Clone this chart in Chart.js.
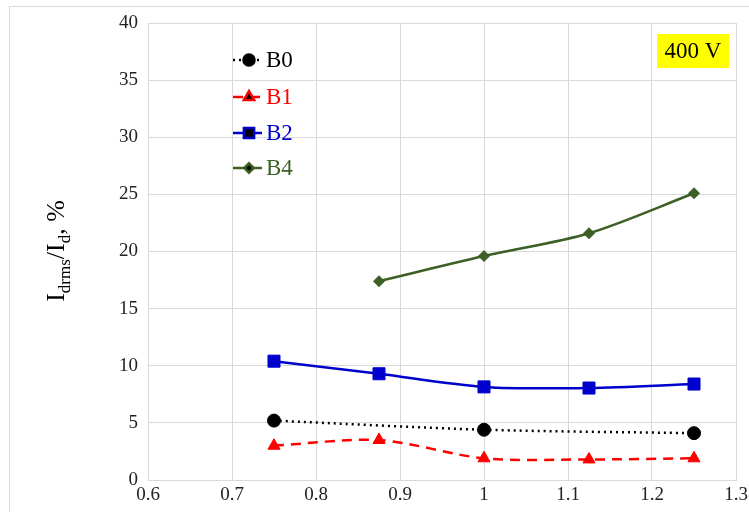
<!DOCTYPE html>
<html>
<head>
<meta charset="utf-8">
<script src="https://cdn.jsdelivr.net/npm/chart.js@4.4.1/dist/chart.umd.min.js"></script>
<style>
  html, body { margin: 0; padding: 0; background: #fff; }
  #frame { position: absolute; left: 9px; top: 6px; width: 740px; height: 506px;
           border-left: 1px solid #d9d9d9; border-top: 1px solid #d9d9d9; }
  #frame canvas { display: block; }
</style>
</head>
<body>
<div id="frame"><canvas id="chart" width="740" height="506"></canvas></div>
<script>
// values
const xB0 = [0.75, 1.0, 1.25];
const yB0 = [5.2, 4.4, 4.1];
const xB1 = [0.75, 0.875, 1.0, 1.125, 1.25];
const yB1 = [3.0, 3.5, 1.9, 1.8, 1.9];
const xB2 = [0.75, 0.875, 1.0, 1.125, 1.25];
const yB2 = [10.4, 9.3, 8.15, 8.05, 8.4];
const xB4 = [0.875, 1.0, 1.125, 1.25];
const yB4 = [17.4, 19.6, 21.6, 25.1];
const seriesNames = ['B0', 'B1', 'B2', 'B4'];
const boxLabel = '400 V';

const serif = '"Liberation Serif", "Times New Roman", serif';
const toPoints = (xs, ys) => xs.map((x, i) => ({ x: x, y: ys[i] }));

const series = [
  { name: seriesNames[0], data: toPoints(xB0, yB0), color: '#000000', dash: [2, 4], style: 'circle', radius: 6.5 },
  { name: seriesNames[1], data: toPoints(xB1, yB1), color: '#ff0000', dash: [10, 7], style: 'triangle', radius: 7 },
  { name: seriesNames[2], data: toPoints(xB2, yB2), color: '#0000cc', dash: [], style: 'rect', radius: 8.5 },
  { name: seriesNames[3], data: toPoints(xB4, yB4), color: '#3b5f25', dash: [], style: 'rectRot', radius: 5.5 },
];

// legend in the upper left of the plot, drawn like Excel's
const legendPlugin = {
  id: 'insideLegend',
  afterDatasetsDraw(chart) {
    const ctx = chart.ctx;
    const rows = [53, 90, 126, 161];
    chart.data.datasets.forEach((ds, i) => {
      const y = rows[i];
      ctx.save();
      ctx.strokeStyle = ds.borderColor;
      ctx.lineWidth = 2.5;
      ctx.setLineDash(ds.borderDash || []);
      ctx.beginPath();
      ctx.moveTo(223, y);
      ctx.lineTo(252, y);
      ctx.stroke();
      ctx.setLineDash([]);
      Chart.helpers.drawPoint(ctx, {
        pointStyle: ds.pointStyle, radius: ds.pointRadius * 0.85, borderWidth: 1
      }, 239, y);
      ctx.fillStyle = ds.borderColor;
      ctx.font = '23px ' + serif;
      ctx.textBaseline = 'middle';
      ctx.fillText(ds.label, 256, y + 1);
      ctx.restore();
    });
  }
};

const extrasPlugin = {
  id: 'extras',
  afterDraw(chart) {
    const ctx = chart.ctx;
    ctx.save();
    // "400 V" box
    ctx.fillStyle = '#ffff00';
    ctx.fillRect(647, 27, 72, 34);
    ctx.fillStyle = '#000';
    ctx.font = '23px ' + serif;
    ctx.textAlign = 'center';
    ctx.textBaseline = 'middle';
    ctx.fillText(boxLabel, 683, 45);

    // y axis title with subscripts
    const parts = [
      { t: 'I', f: 26, dy: 0 },
      { t: 'drms', f: 17, dy: 6 },
      { t: '/I', f: 26, dy: 0 },
      { t: 'd', f: 17, dy: 6 },
      { t: ', %', f: 26, dy: 0 },
    ];
    let total = 0;
    parts.forEach(p => { ctx.font = p.f + 'px ' + serif; p.w = ctx.measureText(p.t).width; total += p.w; });
    ctx.translate(54, 244);
    ctx.rotate(-Math.PI / 2);
    ctx.textAlign = 'left';
    ctx.textBaseline = 'alphabetic';
    let x = -total / 2;
    parts.forEach(p => {
      ctx.font = p.f + 'px ' + serif;
      ctx.fillText(p.t, x, p.dy);
      x += p.w;
    });
    ctx.restore();
  }
};

new Chart(document.getElementById('chart'), {
  type: 'line',
  data: {
    datasets: series.map(s => ({
      label: s.name,
      data: s.data,
      borderColor: s.color,
      backgroundColor: s.color,
      borderWidth: 2.5,
      borderDash: s.dash,
      pointStyle: s.style,
      pointRadius: s.radius,
      pointBorderWidth: 1,
      tension: 0.3,
      fill: false,
    })),
  },
  options: {
    responsive: false,
    animation: false,
    layout: { padding: { top: 16, right: 14, left: 0, bottom: 0 } },
    plugins: {
      legend: { display: false },
      tooltip: { enabled: false },
    },
    scales: {
      x: {
        type: 'linear',
        min: 0.6,
        max: 1.3,
        ticks: {
          stepSize: 0.1,
          color: '#222',
          font: { family: serif, size: 19 },
          padding: 4,
          maxRotation: 0,
          callback: v => String(+v.toFixed(1)),
        },
        grid: { color: '#d9d9d9', drawTicks: false },
        border: { color: '#d9d9d9' },
        afterFit: scale => {
          scale.height = 33;
          scale.paddingLeft = 0;
          scale.paddingRight = 0;
        },
      },
      y: {
        min: 0,
        max: 40,
        ticks: {
          stepSize: 5,
          color: '#222',
          font: { family: serif, size: 19 },
          padding: 10,
        },
        grid: { color: '#d9d9d9', drawTicks: false },
        border: { color: '#d9d9d9' },
        afterFit: scale => {
          scale.width = 138;
          scale.paddingTop = 0;
          scale.paddingBottom = 0;
        },
      },
    },
  },
  plugins: [legendPlugin, extrasPlugin],
});
</script>
</body>
</html>
